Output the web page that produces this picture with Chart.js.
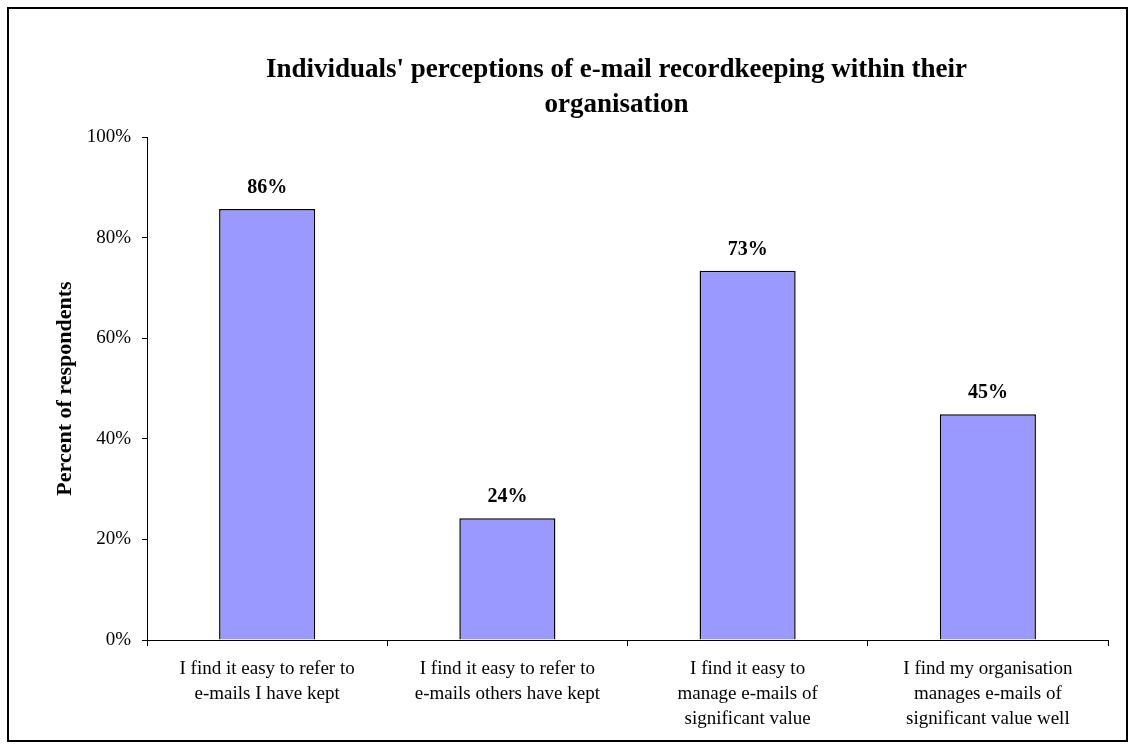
<!DOCTYPE html>
<html lang="en">
<head>
    <meta charset="UTF-8">
    <title>E-mail recordkeeping perceptions</title>
    <script src="https://cdn.jsdelivr.net/npm/chart.js"></script>
    <style>
        body {
            margin: 0;
            background: #fff;
        }
        .frame {
            position: absolute;
            left: 7px;
            top: 7px;
            width: 1117px;
            height: 731px;
            border: 2px solid #000;
        }
    </style>
</head>
<body>

<div class="frame">
    <canvas id="emailChart" width="1117" height="731"></canvas>
</div>

<script>
    // data
    const categories = [
        ['I find it easy to refer to', 'e-mails I have kept'],
        ['I find it easy to refer to', 'e-mails others have kept'],
        ['I find it easy to', 'manage e-mails of', 'significant value'],
        ['I find my organisation', 'manages e-mails of', 'significant value well']
    ];
    const percentValues = [85.7, 24.2, 73.4, 44.9];
    const yTicks = [0, 20, 40, 60, 80, 100];
    const titleLines = ["Individuals' perceptions of e-mail recordkeeping within their", 'organisation'];

    const serif = '"Liberation Serif", "Times New Roman", serif';

    // title drawn over the plot area (centre sits a bit left of the plot centre)
    const titlePlugin = {
        id: 'centredTitle',
        afterDraw(chart) {
            const ctx = chart.ctx;
            const area = chart.chartArea;
            const cx = (area.left + area.right) / 2 - 11;
            ctx.save();
            ctx.fillStyle = '#000';
            ctx.font = 'bold 27px ' + serif;
            ctx.textAlign = 'center';
            ctx.textBaseline = 'middle';
            titleLines.forEach((line, i) => {
                ctx.fillText(line, cx, 61 + i * 35);
            });
            ctx.restore();
        }
    };

    // value labels above each bar
    const barLabels = {
        id: 'barLabels',
        afterDatasetsDraw(chart) {
            const ctx = chart.ctx;
            const meta = chart.getDatasetMeta(0);
            ctx.save();
            ctx.fillStyle = '#000';
            ctx.font = 'bold 20px ' + serif;
            ctx.textAlign = 'center';
            ctx.textBaseline = 'bottom';
            meta.data.forEach((bar, i) => {
                ctx.fillText(Math.round(percentValues[i]) + '%', bar.x, bar.y - 11);
            });
            ctx.restore();
        }
    };

    const ctx = document.getElementById('emailChart').getContext('2d');
    new Chart(ctx, {
        type: 'bar',
        data: {
            labels: categories,
            datasets: [{
                data: percentValues,
                backgroundColor: '#9999FF',
                borderColor: '#000',
                borderWidth: 1.5,
                barPercentage: 0.4,
                categoryPercentage: 1
            }]
        },
        options: {
            responsive: false,
            animation: false,
            layout: {
                padding: { top: 128, right: 18, left: 43, bottom: 0 }
            },
            plugins: {
                legend: { display: false },
                tooltip: { enabled: false }
            },
            scales: {
                x: {
                    offset: true,
                    afterFit(axis) { axis.height = 100; },
                    grid: {
                        offset: true,
                        drawOnChartArea: false,
                        tickLength: 6,
                        color: '#000'
                    },
                    border: { color: '#000', width: 1 },
                    ticks: {
                        color: '#000',
                        maxRotation: 0,
                        autoSkip: false,
                        padding: 10,
                        font: { family: serif, size: 19, lineHeight: 1.32 }
                    }
                },
                y: {
                    min: 0,
                    max: 100,
                    afterFit(axis) { axis.width = 95; },
                    afterBuildTicks(axis) {
                        axis.ticks = yTicks.map(v => ({ value: v }));
                    },
                    grid: {
                        drawOnChartArea: false,
                        tickLength: 5,
                        color: '#000'
                    },
                    border: { color: '#000', width: 1 },
                    ticks: {
                        color: '#000',
                        padding: 11,
                        font: { family: serif, size: 19 },
                        callback: v => v + '%'
                    },
                    title: {
                        display: true,
                        text: 'Percent of respondents',
                        color: '#000',
                        padding: { top: 0, bottom: 0 },
                        font: { family: serif, size: 22, weight: 'bold' }
                    }
                }
            }
        },
        plugins: [titlePlugin, barLabels]
    });
</script>

</body>
</html>
